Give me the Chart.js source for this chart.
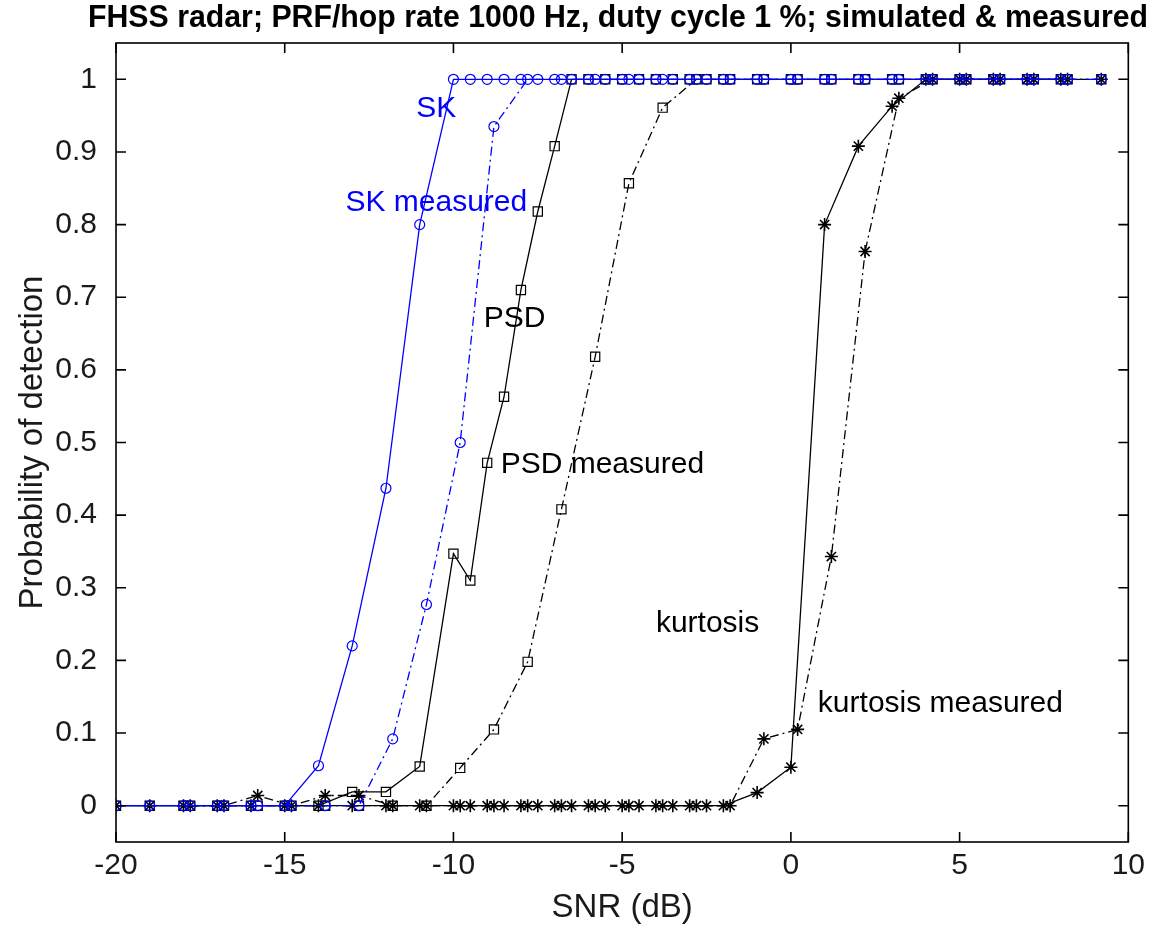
<!DOCTYPE html>
<html>
<head>
<meta charset="utf-8">
<script src="https://cdn.jsdelivr.net/npm/chart.js@4/dist/chart.umd.min.js"></script>
<style>
  html, body { margin: 0; padding: 0; background: #fff; }
</style>
</head>
<body>
<canvas id="myChart" width="1151" height="943"></canvas>
<script>
// SNR simulado: paso 1 dB hasta -10, 0.5 dB hasta -2, luego 1 dB
const snrSimulado = [
  -20, -19, -18, -17, -16, -15, -14, -13, -12, -11, -10,
  -9.5, -9, -8.5, -8, -7.5, -7, -6.5, -6, -5.5, -5, -4.5, -4, -3.5, -3, -2.5, -2,
  -1, 0, 1, 2, 3, 4, 5, 6, 7, 8,
];
const snrMedido = [
  -17.8, -16.8, -15.8, -14.8, -13.8, -12.8, -11.8, -10.8, -9.8, -8.8, -7.8, -6.8, -5.8, -4.8,
  -3.8, -2.8, -1.8, -0.8, 0.2, 1.2, 2.2, 3.2, 4.2, 5.2, 6.2, 7.2, 8.2, 9.2,
];

const pdSK = [
  0, 0, 0, 0, 0, 0, 0.055, 0.22, 0.437, 0.8, 1,
  1, 1, 1, 1, 1, 1, 1, 1, 1, 1, 1, 1, 1, 1, 1, 1,
  1, 1, 1, 1, 1, 1, 1, 1, 1, 1,
];
const pdPSD = [
  0, 0, 0, 0, 0, 0, 0, 0.019, 0.019, 0.054, 0.347,
  0.31, 0.472, 0.563, 0.71, 0.818, 0.908, 1, 1, 1, 1, 1, 1, 1, 1, 1, 1,
  1, 1, 1, 1, 1, 1, 1, 1, 1, 1,
];
const pdKurtosis = [
  0, 0, 0, 0, 0, 0, 0, 0, 0, 0, 0,
  0, 0, 0, 0, 0, 0, 0, 0, 0, 0, 0, 0, 0, 0, 0, 0,
  0.018, 0.053, 0.8, 0.908, 0.963, 1, 1, 1, 1, 1,
];

const pdSKMedido = [
  0, 0, 0, 0, 0, 0, 0.092, 0.277, 0.5, 0.935, 1, 1, 1, 1,
  1, 1, 1, 1, 1, 1, 1, 1, 1, 1, 1, 1, 1, 1,
];
const pdPSDMedido = [
  0, 0, 0, 0, 0, 0, 0, 0, 0.052, 0.105, 0.198, 0.408, 0.618, 0.857,
  0.961, 1, 1, 1, 1, 1, 1, 1, 1, 1, 1, 1, 1, 1,
];
const pdKurtosisMedido = [
  0, 0, 0.014, 0, 0.014, 0.014, 0, 0, 0, 0, 0, 0, 0, 0,
  0, 0, 0, 0.092, 0.105, 0.343, 0.763, 0.974, 1, 1, 1, 1, 1, 1,
];

const xTicks = [-20, -15, -10, -5, 0, 5, 10];
const yTicks = [0, 0.1, 0.2, 0.3, 0.4, 0.5, 0.6, 0.7, 0.8, 0.9, 1];

const titulo = "FHSS radar; PRF/hop rate 1000 Hz, duty cycle 1 %; simulated & measured";
const tituloX = "SNR (dB)";
const tituloY = "Probability of detection";

// etiquetas dentro del grafico (en coordenadas de datos)
const etiquetas = ["SK", "SK measured", "PSD", "PSD measured", "kurtosis", "kurtosis measured"];
const etiquetasSNR = [-11.1, -13.2, -9.1, -8.6, -4, 0.8];
const etiquetasPd = [0.96, 0.83, 0.67, 0.47, 0.25, 0.14];

const AZUL = "#0000ff";
const NEGRO = "#000000";
const fuente = "'Liberation Sans', Arial, sans-serif";

const aPuntos = (xs, ys) => xs.map((x, i) => ({ x, y: ys[i] }));

const serie = (label, xs, ys, color, marcador, radio, medido) => ({
  label,
  data: aPuntos(xs, ys),
  borderColor: color,
  backgroundColor: "rgba(0,0,0,0)",
  borderWidth: 1.3,
  borderDash: medido ? [9, 4, 2, 4] : [],
  pointStyle: marcador,
  pointRadius: radio,
  pointBorderWidth: marcador === "star" ? 1.6 : 1.2,
  pointBorderColor: color,
  pointBackgroundColor: "rgba(0,0,0,0)",
  tension: 0,
  fill: false,
});

// caja y marcas hacia adentro estilo matlab, etiquetas y titulo
const marcoPlugin = {
  id: "marco",
  afterDraw(chart) {
    const { ctx, chartArea: a, scales } = chart;
    const { x, y } = scales;
    const largo = 10;
    ctx.save();
    ctx.strokeStyle = NEGRO;
    ctx.lineWidth = 1.6;
    ctx.strokeRect(a.left, a.top, a.right - a.left, a.bottom - a.top);
    ctx.beginPath();
    xTicks.forEach((v) => {
      const px = x.getPixelForValue(v);
      ctx.moveTo(px, a.bottom);
      ctx.lineTo(px, a.bottom - largo);
      ctx.moveTo(px, a.top);
      ctx.lineTo(px, a.top + largo);
    });
    yTicks.forEach((v) => {
      const py = y.getPixelForValue(v);
      ctx.moveTo(a.left, py);
      ctx.lineTo(a.left + largo, py);
      ctx.moveTo(a.right, py);
      ctx.lineTo(a.right - largo, py);
    });
    ctx.stroke();

    // etiquetas de curvas
    ctx.font = `30px ${fuente}`;
    ctx.textAlign = "left";
    ctx.textBaseline = "middle";
    etiquetas.forEach((txt, i) => {
      ctx.fillStyle = txt.startsWith("SK") ? AZUL : NEGRO;
      ctx.fillText(txt, x.getPixelForValue(etiquetasSNR[i]), y.getPixelForValue(etiquetasPd[i]));
    });

    // titulo (algo angosto, como el original)
    ctx.font = `bold 32px ${fuente}`;
    ctx.fillStyle = NEGRO;
    ctx.textAlign = "center";
    ctx.textBaseline = "alphabetic";
    const ancho = ctx.measureText(titulo).width;
    const escala = 1060 / ancho;
    ctx.translate(618, 27);
    ctx.scale(escala, 1);
    ctx.fillText(titulo, 0, 0);
    ctx.restore();
  },
};

const data = {
  datasets: [
    serie("SK", snrSimulado, pdSK, AZUL, "circle", 5, false),
    serie("SK measured", snrMedido, pdSKMedido, AZUL, "circle", 5, true),
    serie("PSD", snrSimulado, pdPSD, NEGRO, "rect", 6.5, false),
    serie("PSD measured", snrMedido, pdPSDMedido, NEGRO, "rect", 6.5, true),
    serie("kurtosis", snrSimulado, pdKurtosis, NEGRO, "star", 6.5, false),
    serie("kurtosis measured", snrMedido, pdKurtosisMedido, NEGRO, "star", 6.5, true),
  ],
};

const config = {
  type: "line",
  data,
  options: {
    responsive: false,
    animation: false,
    devicePixelRatio: 1,
    layout: { padding: { top: 43, right: 21, bottom: 0, left: 0 } },
    plugins: {
      legend: { display: false },
      title: { display: false },
      tooltip: { enabled: false },
    },
    scales: {
      x: {
        type: "linear",
        min: -20,
        max: 10,
        afterBuildTicks: (s) => {
          s.ticks = xTicks.map((v) => ({ value: v }));
        },
        afterFit: (s) => {
          s.height = 101;
        },
        grid: { display: false, drawTicks: false },
        border: { display: false },
        ticks: {
          padding: 6,
          color: "#1a1a1a",
          font: { family: fuente, size: 30 },
          callback: (v) => String(v),
        },
        title: {
          display: true,
          text: tituloX,
          color: "#1a1a1a",
          font: { family: fuente, size: 33 },
          padding: { top: 0, bottom: 15 },
        },
      },
      y: {
        type: "linear",
        min: -0.05,
        max: 1.05,
        afterBuildTicks: (s) => {
          s.ticks = yTicks.map((v) => ({ value: v }));
        },
        afterFit: (s) => {
          s.width = 116;
        },
        grid: { display: false, drawTicks: false },
        border: { display: false },
        ticks: {
          padding: 19,
          color: "#1a1a1a",
          font: { family: fuente, size: 30 },
          callback: (v) => String(v),
        },
        title: {
          display: true,
          text: tituloY,
          color: "#1a1a1a",
          font: { family: fuente, size: 33 },
          padding: { top: 13, bottom: 0 },
        },
      },
    },
  },
  plugins: [marcoPlugin],
};

const myChart = new Chart(document.getElementById("myChart"), config);
</script>
</body>
</html>
